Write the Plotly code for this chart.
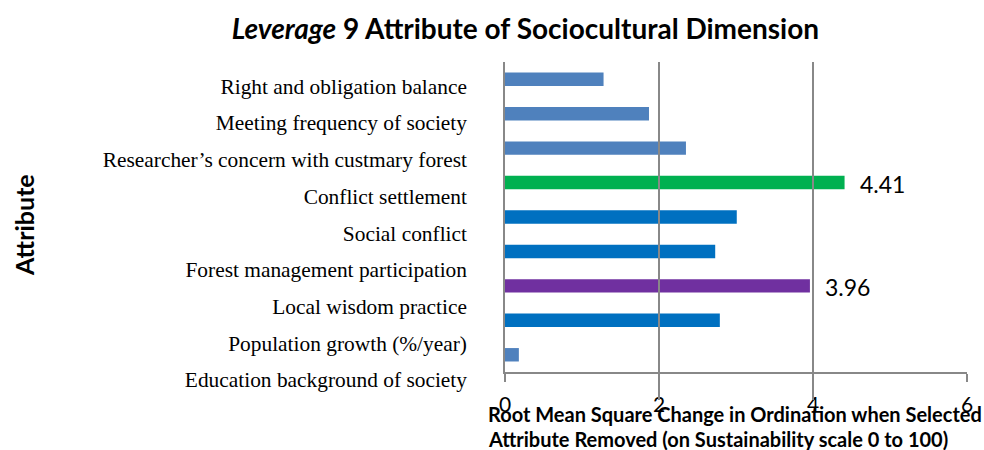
import plotly.graph_objects as go

categories = [
    "Right and obligation balance",
    "Meeting frequency of society",
    "Researcher\u2019s concern with custmary forest",
    "Conflict settlement",
    "Social conflict",
    "Forest management participation",
    "Local wisdom practice",
    "Population growth (%/year)",
    "Education background of society",
]
values = [1.28, 1.87, 2.35, 4.41, 3.01, 2.73, 3.96, 2.79, 0.18]
bar_colors = ["#4F81BD", "#4F81BD", "#4F81BD", "#00B050", "#0070C0",
              "#0070C0", "#7030A0", "#0070C0", "#4F81BD"]
x_ticks = [0, 2, 4, 6]
highlight = {"Conflict settlement": "4.41", "Local wisdom practice": "3.96"}

title_text = "<i>Leverage</i> 9 Attribute of Sociocultural Dimension"
xtitle_1 = "Root Mean Square Change in Ordination when Selected"
xtitle_2 = "Attribute Removed (on Sustainability scale 0 to 100)"
ytitle = "Attribute"

fig = go.Figure()
fig.add_trace(go.Bar(
    y=categories, x=values, orientation="h", xaxis="x", yaxis="y",
    marker=dict(color=bar_colors, line=dict(width=0)),
    width=0.39, hoverinfo="x+y", showlegend=False,
))
# invisible trace to carry the category labels axis
fig.add_trace(go.Scatter(
    y=categories, x=values, xaxis="x", yaxis="y2", mode="markers",
    marker=dict(opacity=0, size=1), hoverinfo="skip", showlegend=False,
))

for cat, txt in highlight.items():
    val = values[categories.index(cat)]
    fig.add_annotation(x=val, y=cat, xref="x", yref="y", text=txt,
                       showarrow=False, xanchor="left", xshift=13, yshift=-1,
                       font=dict(family="Lato", size=23, color="#000000"))

grid_col = "#888888"
fig.update_layout(
    width=984, height=450,
    margin=dict(l=505, r=17, t=62, b=50),
    paper_bgcolor="white", plot_bgcolor="rgba(0,0,0,0)",
    title=dict(text=title_text, x=0.534, xanchor="center", y=0.935, yanchor="middle",
               font=dict(family="Lato", size=28, color="#000000", weight="bold")),
    xaxis=dict(range=[0, 6], tickvals=x_ticks, showgrid=True, gridcolor=grid_col,
               gridwidth=1.6, showline=True, linecolor=grid_col, linewidth=1.6,
               ticks="outside", ticklen=8, tickcolor=grid_col, tickwidth=1.6,
               zeroline=False, anchor="y", ticklabelstandoff=5,
               tickfont=dict(family="Lato", size=21, color="#000000")),
    yaxis=dict(domain=[(400 - 372) / 338, 1], categoryorder="array",
               categoryarray=categories, autorange="reversed",
               showticklabels=False, showline=True, linecolor=grid_col,
               linewidth=1.6, showgrid=False, ticks="", zeroline=False),
    yaxis2=dict(domain=[0.5 / 338, (400 - 66.5) / 338], anchor="free", position=0,
                side="left", categoryorder="array", categoryarray=categories,
                autorange="reversed", showgrid=False, showline=False, ticks="",
                zeroline=False, ticklabelstandoff=38,
                tickfont=dict(family="Liberation Serif", size=21.4, color="#000000")),
)

fig.add_annotation(x=-19 / 462, y=(400 - 414) / 338, xref="paper", yref="paper",
                   text="<b>" + xtitle_1 + "</b>", showarrow=False,
                   xanchor="left", yanchor="middle",
                   font=dict(family="Lato", size=20, color="#000000"))
fig.add_annotation(x=-19 / 462, y=(400 - 439) / 338, xref="paper", yref="paper",
                   text="<b>" + xtitle_2 + "</b>", showarrow=False,
                   xanchor="left", yanchor="middle",
                   font=dict(family="Lato", size=20, color="#000000"))
fig.add_annotation(x=(24 - 505) / 462, y=(400 - 225) / 338, xref="paper", yref="paper",
                   text="<b>" + ytitle + "</b>", showarrow=False, textangle=-90,
                   xanchor="center", yanchor="middle",
                   font=dict(family="Lato", size=25, color="#000000"))

fig.write_html("out.html",
               config={"displayModeBar": False},
               post_script="document.body.style.margin='0px';")
